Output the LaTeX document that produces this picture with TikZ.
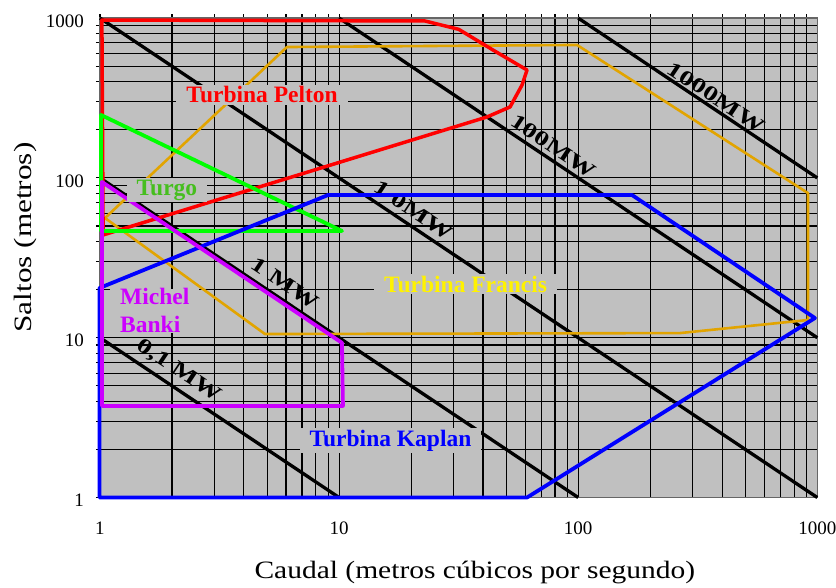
\documentclass[tikz,border=0pt]{standalone}
\usepackage{fontspec}
\setmainfont{Liberation Serif}
\usepackage{xcolor}
\definecolor{fondo}{RGB}{192,192,192}
\definecolor{francis}{RGB}{226,164,0}
\definecolor{banki}{RGB}{204,0,255}
\definecolor{turgotxt}{RGB}{70,190,30}

\begin{document}
\begin{tikzpicture}[x=239.1pt, y=159.8pt,
		rejilla/.style={line width=1.1pt},
		potencia/.style={line width=3.3pt},
		turbina/.style={line width=3.8pt, line join=round},
		etiqueta/.style={fill=fondo, font=\fontsize{23.5}{28}\selectfont\bfseries, inner xsep=10pt, inner ysep=2pt, anchor=base},
		mw/.style={font=\fontsize{21}{21}\selectfont\bfseries, rotate=-33.75, inner sep=0pt},
		eje/.style={font=\fontsize{19}{19}\selectfont, inner sep=0pt}]
	\useasboundingbox (-0.4182,-0.5601) rectangle (3.0782,3.1133);
	\fill[fondo] (0,0) rectangle (3,3);
	\foreach \d in {0,1,2}
		\foreach \k in {1,...,9} {
			\draw[rejilla] ({\d+log10(\k)},0) -- ({\d+log10(\k)},3.025);
			\draw[rejilla] (-0.017,{\d+log10(\k)}) -- (3,{\d+log10(\k)});
		}
	\draw[black!60, line width=1.6pt] (0,0) rectangle (3,3);

	\draw[potencia] (0,1) -- (1,0);
	\draw[potencia] (0,2) -- (2,0);
	\draw[potencia] (0,3) -- (3,0);
	\draw[potencia] (1,3) -- (3,1);
	\draw[potencia] (2,3) -- (3,2);
	\node[mw] (p01) at (0.330,0.792) {\scalebox{1.35}[1]{0,1 MW}};
	\node[mw] (p1) at (0.774,1.339) {\scalebox{1.35}[1]{1 MW}};
	\node[mw] (p10) at (1.311,1.799) {\scalebox{1.35}[1]{1 0MW}};
	\node[mw] (p100) at (1.897,2.197) {\scalebox{1.35}[1]{100MW}};
	\node[mw] (p1000) at (2.576,2.503) {\scalebox{1.35}[1]{1000MW}};

	\draw[turbina, francis, line width=2.6pt] (0.021,1.749) -- (0.782,2.819) -- (1.995,2.832) -- (2.961,1.905) -- (2.961,1.111) -- (2.426,1.029) -- (0.690,1.023) -- cycle;
	\draw[turbina, red, line width=3.5pt] (0.008,2.988) -- (1.359,2.982) -- (1.500,2.930) -- (1.644,2.800) -- (1.786,2.675) -- (1.765,2.581) -- (1.715,2.444) -- (1.618,2.381) -- (0.013,1.643) -- cycle;
	\draw[turbina, green] (0.004,2.394) -- (1.012,1.668) -- (0.004,1.668) -- cycle;
	\draw[turbina, blue] (-0.002,0) -- (-0.002,1.311) -- (0.954,1.893) -- (2.225,1.893) -- (2.990,1.123) -- (1.786,0) -- cycle;
	\draw[turbina, banki] (0.008,1.975) -- (1.012,0.968) -- (1.016,0.573) -- (0.008,0.573) -- cycle;

	\node[etiqueta, text=red] (pelton) at (0.678,2.469) {Turbina Pelton};
	\node[etiqueta, text=turgotxt] (turgo) at (0.280,1.893) {Turgo};
	\node[etiqueta, text=banki, align=left, anchor=base west, inner ysep=0pt] (michel) at (0.042,1.030) {Michel\\Banki};
	\node[etiqueta, text=yellow] (francis) at (1.529,1.286) {Turbina Francis};
	\node[etiqueta, text=blue] (kaplan) at (1.215,0.322) {Turbina Kaplan};

	\foreach \v/\n in {0/1,1/10,2/100,3/1000} {
		\node[eje, anchor=east] (y\n) at (-0.0669,\v) [yshift=-3pt] {\n};
		\node[eje] (x\n) at (\v,-0.1909) {\n};
	}
	\node[font=\fontsize{25}{25}\selectfont, anchor=base] (caudal) at (1.568,-0.504) {\scalebox{1.18}[1]{Caudal (metros cúbicos por segundo)}};
	\node[font=\fontsize{25}{25}\selectfont, anchor=base, rotate=90] (saltos) at (-0.2844,1.627) {\scalebox{1.25}[1]{Saltos (metros)}};
\end{tikzpicture}
\end{document}
